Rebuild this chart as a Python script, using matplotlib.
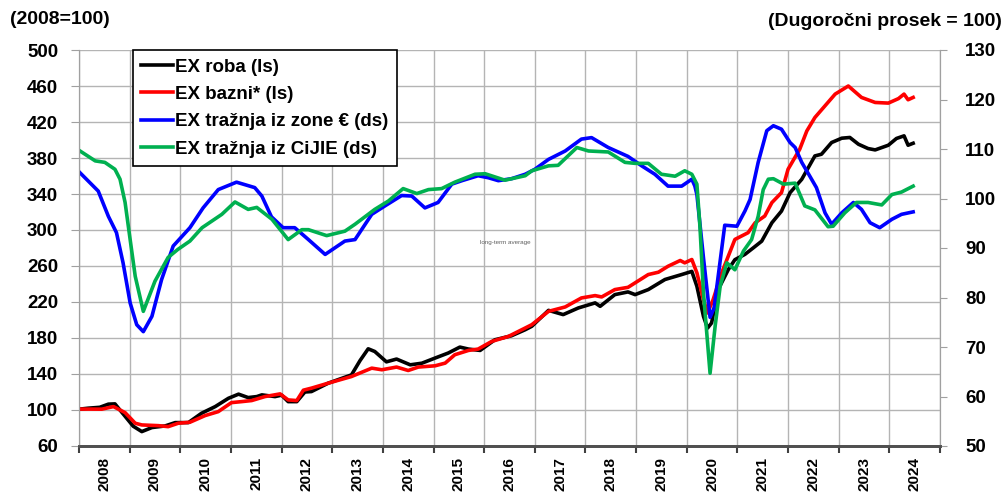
import matplotlib
matplotlib.use("Agg")
import matplotlib.pyplot as plt
import numpy as np

plt.rcParams['font.family'] = ['Liberation Sans', 'DejaVu Sans']
plt.rcParams['font.weight'] = 'bold'

# EX roba (ls) - left axis
roba_x = [2008.02, 2008.18, 2008.41, 2008.58, 2008.71, 2008.91, 2009.07, 2009.24, 2009.44, 2009.70,
          2009.90, 2010.16, 2010.42, 2010.69, 2010.95, 2011.15, 2011.34, 2011.51, 2011.61, 2011.87,
          2012.00, 2012.13, 2012.30, 2012.46, 2012.59, 2012.92, 2013.38, 2013.55, 2013.71, 2013.84,
          2014.07, 2014.27, 2014.54, 2014.77, 2015.03, 2015.29, 2015.52, 2015.69, 2015.92, 2016.21,
          2016.54, 2016.81, 2016.94, 2017.27, 2017.56, 2017.86, 2018.19, 2018.29, 2018.58, 2018.84,
          2018.98, 2019.24, 2019.57, 2019.90, 2020.10, 2020.20, 2020.33, 2020.41, 2020.49, 2020.62,
          2020.82, 2020.95, 2021.15, 2021.31, 2021.48, 2021.68, 2021.87, 2022.04, 2022.27, 2022.53,
          2022.66, 2022.86, 2023.06, 2023.22, 2023.39, 2023.58, 2023.72, 2023.98, 2024.14, 2024.29,
          2024.37, 2024.47]
roba_y = [101, 102, 103, 106.5, 106.8, 93, 82, 76, 80.5, 82.3,
          86, 86, 96.4, 103.8, 113, 117.6, 113.8, 114.9, 116.8, 114.9,
          116.5, 109.3, 109.3, 120, 120.5, 129.8, 139, 155, 168, 165,
          153.5, 156.6, 150.2, 152, 157.7, 163.3, 169.9, 167.7, 166.2, 178,
          182.5, 189.2, 193, 210.7, 206, 213.4, 219, 215.2, 228.2, 231.2,
          228.2, 233.8, 245, 250.5, 254, 237.5, 204, 191, 196.7, 233.8,
          256, 267, 273, 280, 287.6, 308, 321, 341.5, 356.3, 382.3,
          384.2, 397.2, 402, 402.8, 395.3, 390.5, 389, 394.2, 401.7, 404.6,
          394.2, 396.4]

# EX bazni* (ls) - left axis
bazni_x = [2008.02, 2008.18, 2008.45, 2008.68, 2008.91, 2009.11, 2009.24, 2009.57, 2009.76, 2009.96,
           2010.19, 2010.49, 2010.75, 2011.01, 2011.21, 2011.41, 2011.67, 2011.97, 2012.13, 2012.30,
           2012.43, 2012.59, 2012.92, 2013.38, 2013.78, 2013.98, 2014.27, 2014.50, 2014.70, 2015.03,
           2015.23, 2015.42, 2015.69, 2015.88, 2016.15, 2016.48, 2016.81, 2016.94, 2017.27, 2017.60,
           2017.92, 2018.19, 2018.32, 2018.58, 2018.84, 2019.24, 2019.44, 2019.63, 2019.87, 2019.96,
           2020.10, 2020.20, 2020.33, 2020.41, 2020.52, 2020.69, 2020.95, 2021.21, 2021.35, 2021.54,
           2021.68, 2021.87, 2022.00, 2022.23, 2022.37, 2022.53, 2022.73, 2022.93, 2023.19, 2023.45,
           2023.72, 2023.98, 2024.18, 2024.29, 2024.37, 2024.47]
bazni_y = [101, 101, 100.9, 103.8, 97.1, 85.3, 83.4, 82.6, 81.5, 85.3,
           86.4, 93.8, 98.2, 108.2, 109.3, 110.5, 114.9, 117.9, 111.2, 110.5,
           122, 124.3, 129.8, 137.2, 146.5, 144.7, 147.7, 143.9, 147.7, 149.1,
           152.1, 161.4, 166.2, 167.7, 176.2, 181.8, 191.1, 194.8, 209.6, 214.5,
           224.5, 227.1, 225.6, 233.8, 236.3, 250.5, 253.1, 259.7, 266.1, 263.5,
           267.2, 252.4, 222.6, 207.8, 222.6, 252.4, 289.5, 297, 308, 315.5,
           330.4, 341.5, 367.5, 389.7, 410, 425, 438, 451, 460, 447.3,
           441.7, 441, 446, 451, 444.7, 447.3]

# EX traznja iz zone evra (ds) - right axis
zona_x = [2008.02, 2008.38, 2008.58, 2008.74, 2008.87, 2009.01, 2009.14, 2009.27, 2009.44, 2009.63,
          2009.86, 2010.19, 2010.45, 2010.75, 2011.11, 2011.47, 2011.61, 2011.80, 2012.03, 2012.26,
          2012.53, 2012.86, 2013.25, 2013.45, 2013.78, 2014.04, 2014.37, 2014.57, 2014.83, 2015.09,
          2015.36, 2015.56, 2015.88, 2016.08, 2016.28, 2016.54, 2016.81, 2017.00, 2017.27, 2017.60,
          2017.92, 2018.12, 2018.45, 2018.84, 2019.11, 2019.37, 2019.63, 2019.90, 2020.10, 2020.16,
          2020.20, 2020.33, 2020.46, 2020.54, 2020.75, 2020.99, 2021.15, 2021.25, 2021.41, 2021.58,
          2021.71, 2021.87, 2022.04, 2022.14, 2022.27, 2022.43, 2022.56, 2022.73, 2022.86, 2023.06,
          2023.29, 2023.45, 2023.62, 2023.81, 2024.05, 2024.24, 2024.47]
zona_y = [105.2, 101.5, 96.4, 93.1, 87, 78.9, 74.5, 73.1, 76.2, 83.6,
          90.4, 94.1, 98.1, 101.8, 103.3, 102.2, 100.5, 96.3, 94.1, 94.1,
          91.7, 88.7, 91.4, 91.7, 96.8, 98.5, 100.6, 100.5, 98.1, 99.2,
          102.9, 103.6, 104.6, 104.2, 103.6, 104.0, 104.9, 105.9, 107.9, 109.6,
          112.0, 112.3, 110.3, 108.5, 106.6, 104.9, 102.5, 102.5, 103.9, 102.5,
          100.8, 88, 76, 77.9, 94.6, 94.4, 97.5, 99.8, 107.3, 113.7,
          114.7, 114.0, 111.3, 110.3, 107.3, 104.5, 102.2, 97.1, 94.8, 97.1,
          99.2, 97.8, 95.1, 94.1, 95.8, 96.8, 97.3]

# EX traznja iz CiJIE (ds) - right axis
cijie_x = [2008.02, 2008.32, 2008.51, 2008.71, 2008.81, 2008.91, 2009.01, 2009.11, 2009.27, 2009.50,
           2009.76, 2009.95, 2010.19, 2010.43, 2010.82, 2011.08, 2011.34, 2011.51, 2011.81, 2012.13,
           2012.40, 2012.53, 2012.89, 2013.25, 2013.45, 2013.84, 2014.11, 2014.40, 2014.67, 2014.90,
           2015.16, 2015.42, 2015.82, 2016.02, 2016.41, 2016.81, 2016.94, 2017.27, 2017.46, 2017.83,
           2018.06, 2018.45, 2018.78, 2018.98, 2019.24, 2019.50, 2019.77, 2019.96, 2020.10, 2020.20,
           2020.26, 2020.33, 2020.46, 2020.56, 2020.66, 2020.79, 2020.95, 2021.12, 2021.28, 2021.41,
           2021.51, 2021.61, 2021.71, 2021.91, 2022.14, 2022.33, 2022.53, 2022.79, 2022.89, 2023.12,
           2023.35, 2023.58, 2023.85, 2024.05, 2024.24, 2024.47]
cijie_y = [109.6, 107.6, 107.3, 105.9, 103.9, 99.2, 91.7, 84.3, 77.2, 83.3,
           88.1, 89.7, 91.4, 94.1, 96.8, 99.3, 97.8, 98.2, 95.8, 91.7,
           93.7, 93.7, 92.5, 93.4, 94.8, 97.8, 99.5, 102.0, 101.0, 101.8,
           102.0, 103.3, 104.9, 105.0, 103.7, 104.6, 105.6, 106.6, 106.7, 110.3,
           109.6, 109.4, 107.3, 107.1, 107.1, 104.9, 104.5, 105.6, 104.9, 102.9,
           94.4, 80.9, 64.7, 74.2, 82.3, 87.0, 85.6, 89.4, 91.7, 96.4,
           101.8, 103.9, 104.0, 102.9, 103.1, 98.5, 97.7, 94.3, 94.4, 97.1,
           99.2, 99.2, 98.7, 100.8, 101.3, 102.5]

years = list(range(2008, 2025))

fig = plt.figure(figsize=(10.06, 4.92), dpi=100)
ax = fig.add_axes([79/1006, 46/492, 861/1006, 396/492])
ax2 = ax.twinx()

lw = 2.6
l1, = ax.plot(roba_x, roba_y, color='black', lw=lw, label='EX roba (ls)', solid_joinstyle='round')
l2, = ax.plot(bazni_x, bazni_y, color='#ff0000', lw=lw, label='EX bazni* (ls)', solid_joinstyle='round')
l3, = ax2.plot(zona_x, zona_y, color='#0000ff', lw=lw, label='EX tražnja iz zone € (ds)', solid_joinstyle='round')
l4, = ax2.plot(cijie_x, cijie_y, color='#00b050', lw=lw, label='EX tražnja iz CiJIE (ds)', solid_joinstyle='round')

ax.set_xlim(2008, 2025)
ax.set_ylim(60, 500)
ax.set_yticks(np.arange(60, 501, 40))
ax2.set_ylim(50, 130)
ax2.set_yticks(np.arange(50, 131, 10))

ax.set_xticks(np.arange(2008, 2026))
ax.set_xticklabels([])
ax.set_xticks([y + 0.5 for y in years], minor=True)
ax.set_xticklabels([str(y) for y in years], minor=True, rotation=90)
ax.tick_params(axis='x', which='minor', length=0, pad=8, labelsize=11)
ax.tick_params(axis='x', which='major', length=5, width=1.5, color='#404040', direction='out')

ax.grid(True, which='major', color='#b4b4b4', lw=1)
ax.set_axisbelow(True)
ax.tick_params(axis='y', length=6, color='#a0a0a0', pad=9, labelsize=13.5)
ax2.tick_params(axis='y', length=5, color='#a0a0a0', pad=13, labelsize=13.5)

for a in (ax, ax2):
    a.spines['top'].set_visible(False)
    a.spines['left'].set_color('#a0a0a0')
    a.spines['right'].set_color('#a0a0a0')
    a.spines['bottom'].set_color('#505050')
    a.spines['bottom'].set_linewidth(2)

for lab in ax.get_yticklabels() + ax2.get_yticklabels() + ax.get_xticklabels(minor=True):
    lab.set_fontweight('bold')

ax.text(2015.92, 286, 'long-term average', fontsize=4.5, color='#606060', fontweight='normal', va='center')

leg = ax2.legend(handles=[l1, l2, l3, l4], loc='upper left', bbox_to_anchor=(0.0627, 1.0),
                 frameon=True, fancybox=False, edgecolor='black', framealpha=1,
                 prop={'weight': 'bold', 'size': 13.5}, handlelength=1.7, handletextpad=0.1,
                 labelspacing=0.55, borderpad=0.45, borderaxespad=0)
leg.get_frame().set_linewidth(1.2)

fig.text(10/1006, 1 - 20/492, '(2008=100)', fontsize=14, fontweight='bold', va='center', ha='left')
fig.text(1002/1006, 1 - 22/492, '(Dugoročni prosek = 100)', fontsize=14, fontweight='bold', va='center', ha='right')

fig.savefig('out.png', dpi=100)
